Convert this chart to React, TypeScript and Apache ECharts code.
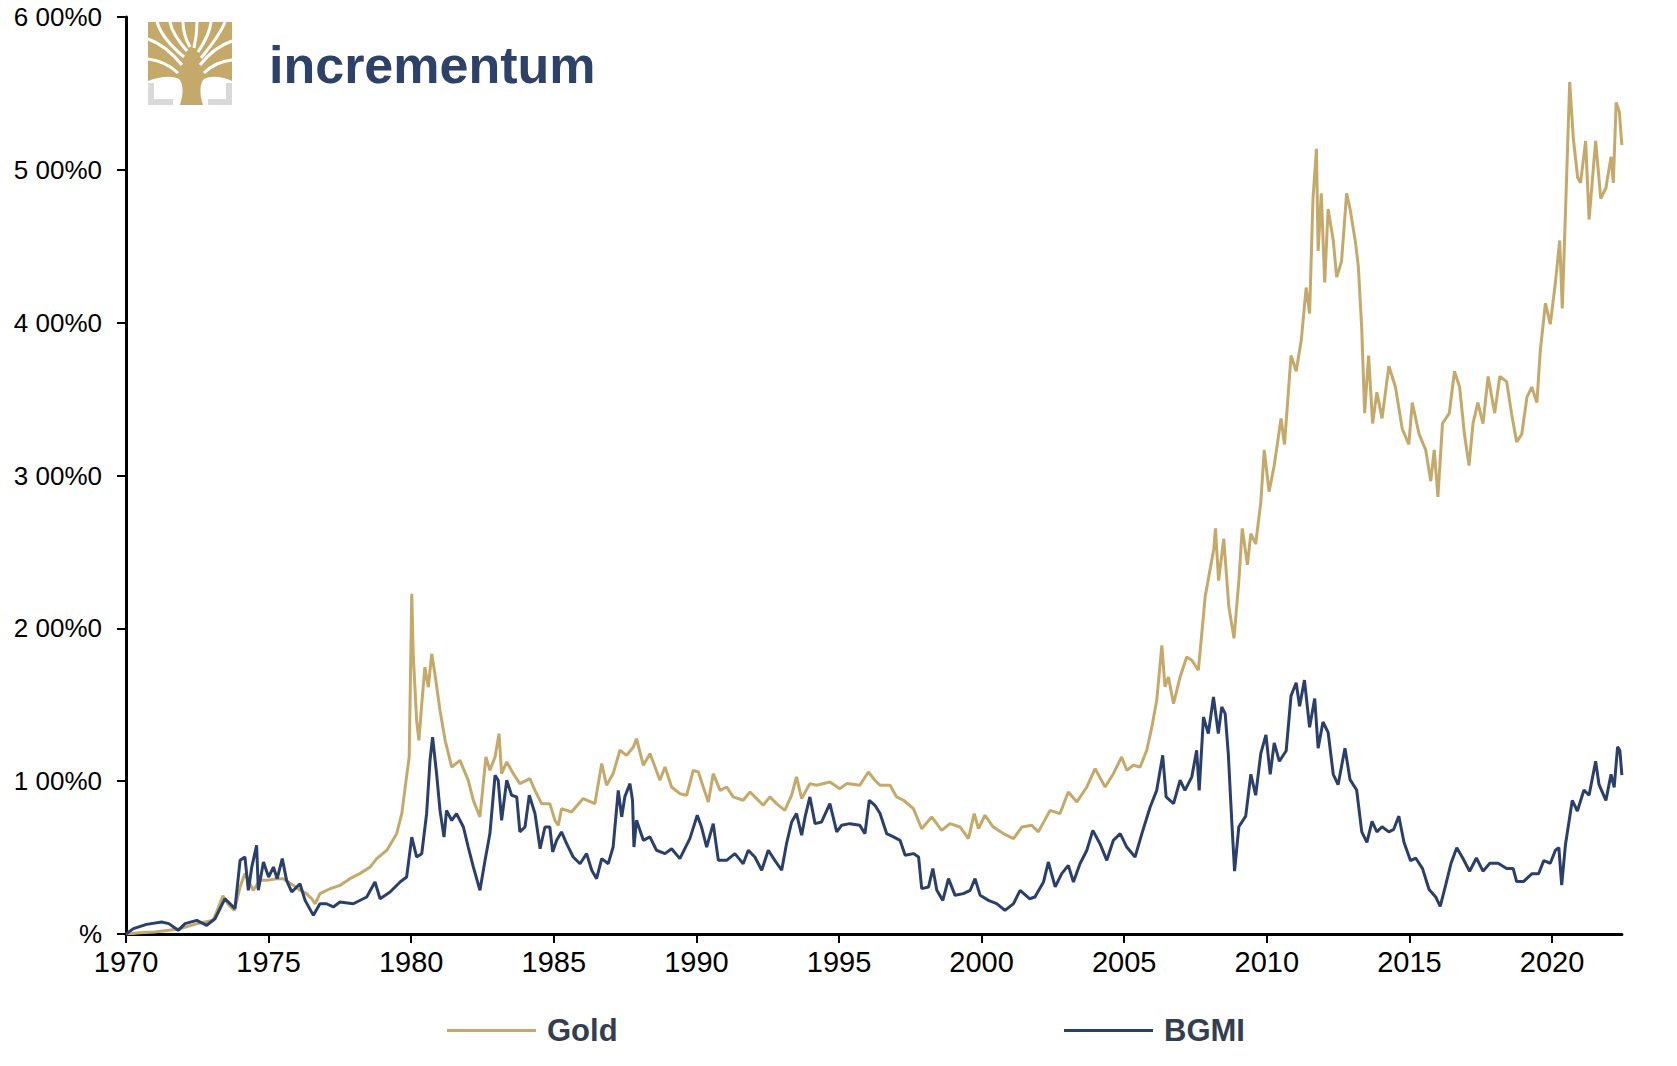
import React, { useEffect, useRef } from "react";
import * as echarts from "echarts";

// ---- Data (cumulative % change since 1970) ----
const gold: [number, number][] = [
  [1970.0, 0], [1970.5, 8], [1971.0, 13], [1971.5, 25], [1971.9, 35], [1972.5, 68], [1973.06, 90],
  [1973.4, 250], [1973.6, 190], [1973.8, 155], [1974.0, 307], [1974.17, 395], [1974.46, 286],
  [1974.7, 351], [1974.93, 351], [1975.28, 362], [1975.52, 362], [1975.87, 318], [1976.1, 286],
  [1976.33, 264], [1976.51, 231], [1976.63, 198], [1976.8, 264], [1977.15, 296], [1977.5, 318],
  [1977.85, 362], [1978.2, 395], [1978.56, 438], [1978.79, 493], [1979.14, 547], [1979.49, 656],
  [1979.67, 787], [1979.82, 1005], [1979.93, 1158], [1980.02, 2226], [1980.07, 1833], [1980.19, 1397],
  [1980.27, 1267], [1980.37, 1506], [1980.48, 1746], [1980.6, 1615], [1980.72, 1833], [1980.83, 1703],
  [1981.01, 1463], [1981.19, 1267], [1981.42, 1092], [1981.71, 1136], [1982.0, 1005], [1982.18, 874],
  [1982.41, 766], [1982.62, 1158], [1982.76, 1071], [1982.94, 1158], [1983.08, 1311], [1983.17, 1049],
  [1983.35, 1126], [1983.58, 1049], [1983.81, 984], [1984.16, 1017], [1984.34, 940], [1984.57, 853],
  [1984.86, 853], [1985.04, 744], [1985.16, 711], [1985.27, 820], [1985.62, 798], [1986.03, 886],
  [1986.44, 853], [1986.68, 1115], [1986.85, 973], [1987.08, 1049], [1987.32, 1202], [1987.55, 1169],
  [1987.79, 1224], [1987.9, 1278], [1988.14, 1104], [1988.37, 1180], [1988.55, 1093], [1988.72, 1006],
  [1988.9, 1093], [1989.13, 962], [1989.42, 918], [1989.66, 908], [1989.89, 1071], [1990.07, 1060],
  [1990.24, 962], [1990.42, 864], [1990.59, 1049], [1990.83, 940], [1991.06, 962], [1991.29, 897],
  [1991.64, 875], [1991.88, 929], [1992.11, 886], [1992.34, 842], [1992.58, 897], [1992.81, 853],
  [1993.1, 809], [1993.34, 908], [1993.51, 1028], [1993.69, 886], [1993.98, 984], [1994.21, 973],
  [1994.68, 995], [1995.03, 951], [1995.27, 984], [1995.73, 973], [1996.03, 1060], [1996.26, 1006],
  [1996.44, 973], [1996.79, 973], [1997.02, 897], [1997.26, 875], [1997.61, 820], [1997.9, 689],
  [1998.25, 766], [1998.6, 678], [1998.89, 722], [1999.25, 700], [1999.54, 624], [1999.74, 788],
  [1999.89, 689], [2000.12, 777], [2000.41, 700], [2000.76, 657], [2001.12, 624], [2001.41, 700],
  [2001.76, 711], [2001.99, 668], [2002.4, 809], [2002.75, 788], [2003.04, 929], [2003.34, 864],
  [2003.69, 962], [2003.98, 1082], [2004.33, 962], [2004.62, 1049], [2004.91, 1158], [2005.09, 1071],
  [2005.32, 1104], [2005.56, 1093], [2005.79, 1202], [2005.97, 1355], [2006.14, 1529], [2006.32, 1889],
  [2006.43, 1617], [2006.55, 1682], [2006.73, 1507], [2006.96, 1682], [2007.19, 1813], [2007.37, 1791],
  [2007.6, 1726], [2007.72, 1966], [2007.84, 2209], [2008.14, 2518], [2008.2, 2654], [2008.31, 2312],
  [2008.49, 2586], [2008.67, 2141], [2008.85, 1935], [2009.02, 2312], [2009.14, 2654], [2009.32, 2415],
  [2009.44, 2620], [2009.61, 2552], [2009.79, 2826], [2009.91, 3168], [2010.08, 2894], [2010.26, 3065],
  [2010.5, 3374], [2010.62, 3203], [2010.85, 3785], [2011.03, 3682], [2011.21, 3888], [2011.38, 4230],
  [2011.5, 4059], [2011.62, 4812], [2011.74, 5138], [2011.8, 4470], [2011.91, 4847], [2012.03, 4264],
  [2012.15, 4744], [2012.33, 4538], [2012.45, 4298], [2012.62, 4401], [2012.8, 4847], [2012.92, 4744],
  [2013.1, 4538], [2013.21, 4367], [2013.33, 3956], [2013.43, 3408], [2013.57, 3785], [2013.71, 3340],
  [2013.86, 3545], [2014.04, 3374], [2014.28, 3716], [2014.51, 3579], [2014.75, 3305], [2014.98, 3203],
  [2015.1, 3477], [2015.34, 3271], [2015.57, 3168], [2015.75, 2963], [2015.87, 3168], [2016.0, 2860],
  [2016.16, 3340], [2016.4, 3408], [2016.58, 3682], [2016.76, 3579], [2016.93, 3271], [2017.09, 3065],
  [2017.23, 3340], [2017.4, 3477], [2017.58, 3340], [2017.76, 3648], [2017.99, 3408], [2018.17, 3648],
  [2018.41, 3614], [2018.58, 3408], [2018.76, 3220], [2018.94, 3271], [2019.12, 3511], [2019.29, 3579],
  [2019.47, 3477], [2019.59, 3819], [2019.77, 4127], [2019.94, 3990], [2020.12, 4264], [2020.27, 4538],
  [2020.36, 4093], [2020.47, 4710], [2020.62, 5575], [2020.75, 5200], [2020.9, 4950], [2021.0, 4915],
  [2021.18, 5189], [2021.3, 4675], [2021.53, 5189], [2021.71, 4812], [2021.89, 4881], [2022.07, 5086],
  [2022.15, 4915], [2022.25, 5441], [2022.36, 5380], [2022.45, 5161],
];

const bgmi: [number, number][] = [
  [1970.0, 0], [1970.26, 35], [1970.72, 63], [1971.25, 78], [1971.5, 68], [1971.83, 24], [1972.07, 68],
  [1972.48, 89], [1972.83, 57], [1973.12, 100], [1973.47, 231], [1973.82, 166], [1974.0, 482],
  [1974.17, 504], [1974.29, 286], [1974.41, 438], [1974.58, 580], [1974.64, 286], [1974.82, 471],
  [1975.0, 373], [1975.17, 438], [1975.3, 362], [1975.48, 493], [1975.63, 351], [1975.81, 275],
  [1976.1, 329], [1976.28, 220], [1976.57, 122], [1976.8, 198], [1977.03, 198], [1977.27, 177],
  [1977.5, 209], [1977.97, 198], [1978.44, 242], [1978.73, 340], [1978.91, 231], [1979.26, 275],
  [1979.61, 340], [1979.84, 373], [1980.02, 634], [1980.19, 504], [1980.37, 525], [1980.54, 787],
  [1980.66, 1136], [1980.75, 1288], [1980.89, 1049], [1981.01, 809], [1981.15, 634], [1981.24, 809],
  [1981.42, 743], [1981.59, 787], [1981.83, 700], [1982.0, 569], [1982.18, 438], [1982.41, 286],
  [1982.59, 482], [1982.76, 657], [1982.94, 1038], [1983.05, 1006], [1983.17, 744], [1983.35, 1006],
  [1983.52, 908], [1983.7, 897], [1983.81, 668], [1983.99, 700], [1984.14, 908], [1984.34, 788],
  [1984.52, 558], [1984.69, 700], [1984.86, 700], [1984.96, 537], [1985.1, 613], [1985.27, 668],
  [1985.45, 591], [1985.68, 504], [1985.92, 460], [1986.15, 526], [1986.33, 417], [1986.5, 362],
  [1986.68, 493], [1986.91, 460], [1987.08, 569], [1987.26, 940], [1987.38, 766], [1987.49, 897],
  [1987.67, 984], [1987.76, 875], [1987.81, 569], [1987.9, 744], [1988.14, 613], [1988.37, 635],
  [1988.6, 548], [1988.9, 526], [1989.13, 558], [1989.42, 493], [1989.77, 624], [1990.03, 777],
  [1990.18, 700], [1990.36, 569], [1990.59, 722], [1990.77, 482], [1991.06, 482], [1991.35, 526],
  [1991.64, 460], [1991.82, 548], [1992.05, 504], [1992.29, 417], [1992.52, 548], [1992.75, 482],
  [1992.99, 417], [1993.16, 591], [1993.34, 733], [1993.51, 788], [1993.69, 646], [1993.81, 766],
  [1993.98, 897], [1994.16, 722], [1994.39, 733], [1994.68, 853], [1994.92, 668], [1995.09, 711],
  [1995.38, 722], [1995.73, 711], [1995.91, 657], [1996.06, 875], [1996.26, 842], [1996.44, 788],
  [1996.67, 657], [1996.91, 635], [1997.14, 613], [1997.32, 515], [1997.61, 526], [1997.79, 504],
  [1997.9, 297], [1998.14, 308], [1998.29, 428], [1998.43, 286], [1998.64, 220], [1998.84, 362],
  [1999.07, 253], [1999.36, 264], [1999.6, 286], [1999.77, 362], [1999.95, 253], [2000.24, 220],
  [2000.53, 199], [2000.82, 155], [2001.12, 199], [2001.35, 286], [2001.68, 231], [2001.87, 242],
  [2002.17, 340], [2002.34, 471], [2002.58, 308], [2002.81, 395], [2003.04, 449], [2003.22, 340],
  [2003.45, 460], [2003.69, 548], [2003.9, 678], [2004.15, 591], [2004.39, 482], [2004.62, 613],
  [2004.86, 657], [2005.09, 569], [2005.38, 504], [2005.62, 657], [2005.91, 831], [2006.14, 940],
  [2006.35, 1169], [2006.47, 897], [2006.73, 853], [2006.96, 1006], [2007.13, 940], [2007.37, 1028],
  [2007.54, 1202], [2007.63, 940], [2007.78, 1420], [2007.95, 1311], [2008.13, 1551], [2008.3, 1311],
  [2008.42, 1486], [2008.54, 1442], [2008.65, 1180], [2008.77, 744], [2008.87, 411], [2009.02, 702],
  [2009.26, 771], [2009.44, 1045], [2009.61, 908], [2009.79, 1182], [2009.97, 1302], [2010.12, 1045],
  [2010.26, 1250], [2010.44, 1130], [2010.68, 1199], [2010.85, 1559], [2011.03, 1644], [2011.15, 1490],
  [2011.32, 1661], [2011.5, 1353], [2011.68, 1541], [2011.8, 1216], [2011.97, 1387], [2012.15, 1319],
  [2012.33, 1045], [2012.5, 977], [2012.74, 1216], [2012.92, 1010], [2013.15, 942], [2013.33, 668],
  [2013.51, 600], [2013.69, 737], [2013.86, 668], [2014.04, 702], [2014.28, 668], [2014.45, 685],
  [2014.63, 771], [2014.81, 600], [2015.04, 480], [2015.22, 497], [2015.46, 428], [2015.69, 291],
  [2015.93, 240], [2016.08, 180], [2016.28, 326], [2016.46, 463], [2016.66, 565], [2016.87, 497],
  [2017.11, 411], [2017.35, 497], [2017.58, 411], [2017.82, 463], [2018.11, 463], [2018.41, 428],
  [2018.64, 428], [2018.76, 343], [2019.0, 343], [2019.29, 394], [2019.53, 394], [2019.71, 480],
  [2019.94, 463], [2020.12, 548], [2020.24, 565], [2020.34, 320], [2020.47, 582], [2020.71, 874],
  [2020.89, 805], [2021.12, 942], [2021.3, 908], [2021.53, 1130], [2021.65, 977], [2021.89, 874],
  [2022.07, 1045], [2022.18, 960], [2022.3, 1225], [2022.38, 1200], [2022.45, 1040],
];

const seriesNames = ["Gold", "BGMI"];
const seriesColors = ["#C4A96A", "#2B3F6B"];
const xTickYears = [1970, 1975, 1980, 1985, 1990, 1995, 2000, 2005, 2010, 2015, 2020];
const yTickLabels = ["%", "1 00%0", "2 00%0", "3 00%0", "4 00%0", "5 00%0", "6 00%0"];

const NARROW = "'Liberation Sans Narrow', 'Arial Narrow', 'Liberation Sans', Arial, sans-serif";
const SANS = "'Liberation Sans', Arial, sans-serif";

const crownPath =
  "M8,7 L92,7 L92,66 C84,62 72,60 64,64 C60,68 59,78 63,90 L40,90 C44,78 43,68 39,64 C31,60 18,62 8,66 Z";
const gapPath =
  "M17,7 C21,20 32,32 44,42 M8,24 C20,28 32,38 42,50 M8,44 C18,45 30,50 38,58 " +
  "M30,7 C32,18 40,28 47,36 M43,7 C43,16 46,25 50,32 M57,7 C57,16 56,24 54,33 " +
  "M71,7 C70,18 64,28 58,37 M85,7 C80,20 70,32 61,43 M92,26 C80,30 68,40 60,50 M92,45 C82,46 72,50 64,58";

let registered = false;
function registerShapes() {
  if (registered) return;
  echarts.graphic.registerShape("treeCrown", echarts.graphic.extendPath(crownPath, {}));
  echarts.graphic.registerShape("treeGaps", echarts.graphic.extendPath(gapPath, {}));
  registered = true;
}

export default function App() {
  const ref = useRef<HTMLDivElement>(null);

  useEffect(() => {
    if (!ref.current) return;
    registerShapes();
    const chart = echarts.init(ref.current, undefined, { renderer: "svg" });
    const gridLeft = 126;
    const gridTop = 17;
    const xMin = 1970;
    const xMax = 2022.45;
    const pxPerYear = 28.52;

    const legendText = {
      fontFamily: NARROW,
      fontWeight: "bold",
      fontSize: 31,
      color: "#333F50",
      padding: [0, 0, 0, 6],
    };

    const option: any = {
      animation: false,
      backgroundColor: "#ffffff",
      grid: {
        left: gridLeft,
        top: gridTop,
        width: (xMax - xMin) * pxPerYear,
        height: 917,
        containLabel: false,
      },
      xAxis: {
        type: "value",
        min: xMin,
        max: xMax,
        axisLine: { show: true, lineStyle: { color: "#000", width: 3 } },
        axisTick: {
          show: true,
          customValues: xTickYears,
          length: 9,
          inside: false,
          lineStyle: { color: "#000", width: 2 },
        },
        axisLabel: {
          customValues: xTickYears,
          formatter: (v: number) => String(Math.round(v)),
          fontFamily: NARROW,
          fontSize: 29,
          color: "#000",
          margin: 13,
        },
        splitLine: { show: false },
      },
      yAxis: {
        type: "value",
        min: 0,
        max: 6000,
        interval: 1000,
        axisLine: { show: true, lineStyle: { color: "#000", width: 3 } },
        axisTick: { show: true, length: 9, inside: false, lineStyle: { color: "#000", width: 2 } },
        axisLabel: {
          formatter: (v: number) => yTickLabels[Math.round(v / 1000)] ?? "",
          fontFamily: SANS,
          fontSize: 26,
          color: "#000",
          margin: 24,
        },
        splitLine: { show: false },
      },
      legend: [
        {
          data: [seriesNames[0]],
          left: 447,
          top: 1015,
          padding: 0,
          icon: "rect",
          itemWidth: 89,
          itemHeight: 3,
          textStyle: legendText,
        },
        {
          data: [seriesNames[1]],
          left: 1064,
          top: 1015,
          padding: 0,
          icon: "rect",
          itemWidth: 89,
          itemHeight: 3,
          textStyle: legendText,
        },
      ],
      series: [
        {
          name: seriesNames[0],
          type: "line",
          data: gold,
          symbol: "none",
          showSymbol: false,
          lineStyle: { color: seriesColors[0], width: 3 },
          itemStyle: { color: seriesColors[0] },
          z: 2,
        },
        {
          name: seriesNames[1],
          type: "line",
          data: bgmi,
          symbol: "none",
          showSymbol: false,
          lineStyle: { color: seriesColors[1], width: 3 },
          itemStyle: { color: seriesColors[1] },
          z: 3,
        },
      ],
      graphic: [
        {
          type: "group",
          x: 140,
          y: 15,
          children: [
            { type: "treeCrown", x: 0, y: 0, style: { fill: "#C5A96B" } },
            {
              type: "treeGaps",
              x: 0,
              y: 0,
              style: { fill: "none", stroke: "#ffffff", lineWidth: 3 },
            },
            {
              type: "polygon",
              shape: { points: [[8, 68], [14, 68], [14, 84], [33, 84], [33, 90], [8, 90]] },
              style: { fill: "#D9D9DB" },
            },
            {
              type: "polygon",
              shape: { points: [[86, 68], [92, 68], [92, 90], [68, 90], [68, 84], [86, 84]] },
              style: { fill: "#D9D9DB" },
            },
          ],
        },
        {
          type: "text",
          x: 269,
          y: 91,
          style: {
            text: "incrementum",
            fontFamily: SANS,
            fontWeight: "bold",
            fontSize: 52,
            fill: "#2E4169",
            textVerticalAlign: "bottom",
            verticalAlign: "alphabetic",
          },
        },
      ],
    };

    chart.setOption(option);
    return () => chart.dispose();
  }, []);

  return (
    <div
      ref={ref}
      style={{ position: "absolute", left: 0, top: 0, width: 1677, height: 1066, background: "#fff" }}
    />
  );
}
